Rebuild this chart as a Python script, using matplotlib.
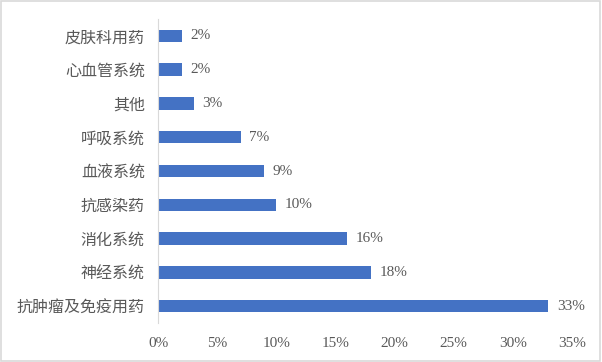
import matplotlib.pyplot as plt
from matplotlib.patches import Rectangle

plt.rcParams['font.family'] = ['Liberation Serif', 'Noto Sans CJK SC']

categories = ["抗肿瘤及免疫用药", "神经系统", "消化系统", "抗感染药", "血液系统",
              "呼吸系统", "其他", "心血管系统", "皮肤科用药"]
values = [33, 18, 16, 10, 9, 7, 3, 2, 2]
xticks = [0, 5, 10, 15, 20, 25, 30, 35]

TEXT = "#595959"
BAR = "#4472C4"

fig = plt.figure(figsize=(6.02, 3.62), dpi=100)
ax = fig.add_axes([0.2625, 0.1077, 0.6877, 0.8398])

y = range(len(categories))
ax.barh(y, values, height=0.37, color=BAR)
ax.set_ylim(-0.5, len(categories) - 0.5)
ax.set_xlim(0, 35)

ax.set_yticks(list(y))
ax.set_yticklabels(categories, fontsize=11.5, color=TEXT,
                   family=['Noto Sans CJK SC'], fontweight='light')
ax.set_xticks(xticks)
ax.set_xticklabels([f"{t}%" for t in xticks], fontsize=11, color=TEXT)
ax.tick_params(axis='both', length=0)
ax.tick_params(axis='y', pad=9.5)
ax.tick_params(axis='x', pad=10)

for yi, v in zip(y, values):
    ax.annotate(f"{v}%", (v, yi), xytext=(6, 0), textcoords='offset points',
                va='center', ha='left', fontsize=11, color=TEXT)

for s in ['top', 'right', 'bottom']:
    ax.spines[s].set_visible(False)
ax.spines['left'].set_color("#D9D9D9")

fig.patches.append(Rectangle((0.002, 0.003), 0.995, 0.994, transform=fig.transFigure,
                             fill=False, edgecolor="#D9D9D9", linewidth=1.2))

fig.savefig("out.png", dpi=100)
